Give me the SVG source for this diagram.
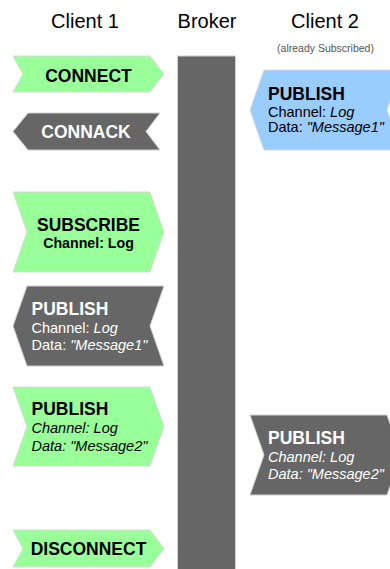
<svg xmlns="http://www.w3.org/2000/svg" width="390" height="569" viewBox="0 0 390 569">
<style>
text{font-family:"Liberation Sans",Arial,Helvetica,sans-serif}
.hdr{font-size:20px;fill:#000;text-anchor:middle}
.sub{font-size:10.5px;fill:#555;text-anchor:middle}
.green{fill:#99ff99;stroke:#d8d8d8;stroke-width:1}
.blue{fill:#99ccff;stroke:#d8d8d8;stroke-width:1}
.gray{fill:#666;stroke:#d0d0d0;stroke-width:1}
.t{font-size:17.5px;font-weight:bold}
.c{text-anchor:middle}
.l{font-size:14.5px}
.dk{fill:#000}
.wt{fill:#fff}
.i{font-style:italic}
</style>
<rect width="390" height="569" fill="#fff"/>
<g id="headers">
<text class="hdr" x="85" y="28">Client 1</text>
<text class="hdr" x="207" y="28">Broker</text>
<text class="hdr" x="325" y="28">Client 2</text>
<text class="sub" x="325.5" y="52">(already Subscribed)</text>
</g>
<g id="broker"><rect class="gray" x="177.5" y="56" width="58" height="520"/></g>
<g id="connectors"/>
<g id="connect">
<path class="green" d="M13,56 L150,56 L164,74 L150,92 L13,92 L23,74 Z"/>
<text class="t c dk" x="88.5" y="81.5">CONNECT</text>
</g>
<g id="connack">
<path class="gray" d="M28,113 L160,113 L146,131.5 L160,150 L28,150 L13,131.5 Z"/>
<text class="t c wt" x="86" y="138">CONNACK</text>
</g>
<g id="publish1-client2">
<path class="blue" d="M264,70 L401,70 L387,110 L401,150 L264,150 L250,110 Z"/>
<text class="t dk" x="268" y="100">PUBLISH</text>
<text class="l dk" x="268" y="116.7">Channel: <tspan class="i">Log</tspan></text>
<text class="l dk" x="268" y="132.3">Data: <tspan class="i">"Message1"</tspan></text>
</g>
<g id="subscribe">
<path class="green" d="M13,192 L150,192 L164,232 L150,272 L13,272 L27,232 Z"/>
<text class="t c dk" x="88.5" y="230.7">SUBSCRIBE</text>
<text class="c dk" x="88.5" y="248.3" font-size="14.2" font-weight="bold">Channel: Log</text>
</g>
<g id="publish1-client1">
<path class="gray" d="M27,286 L164,286 L150,326 L164,366 L27,366 L13,326 Z"/>
<text class="t wt" x="31.5" y="315">PUBLISH</text>
<text class="l wt" x="31.5" y="333.3">Channel: <tspan class="i">Log</tspan></text>
<text class="l wt" x="31.5" y="350">Data: <tspan class="i">"Message1"</tspan></text>
</g>
<g id="publish2-client1">
<path class="green" d="M13,387 L150,387 L164,426.5 L150,466 L13,466 L27,426.5 Z"/>
<text class="t dk" x="31.5" y="415">PUBLISH</text>
<text class="l dk i" x="31.5" y="433.3">Channel: Log</text>
<text class="l dk i" x="31.5" y="450.7">Data: "Message2"</text>
</g>
<g id="publish2-client2">
<path class="gray" d="M250,415 L387,415 L401,455 L387,495 L250,495 L264,455 Z"/>
<text class="t wt" x="268" y="444">PUBLISH</text>
<text class="l wt i" x="268" y="461.7">Channel: Log</text>
<text class="l wt i" x="268" y="479.3">Data: "Message2"</text>
</g>
<g id="disconnect">
<path class="green" d="M13,530 L150,530 L164,548.5 L150,567 L13,567 L23,548.5 Z"/>
<text class="t c dk" x="88.5" y="555">DISCONNECT</text>
</g>
</svg>
